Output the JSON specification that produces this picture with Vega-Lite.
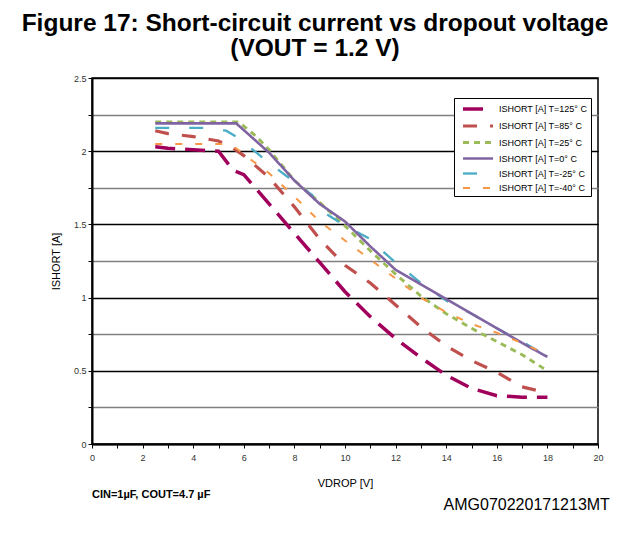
{
  "$schema": "https://vega.github.io/schema/vega-lite/v6.json",
  "width": 506,
  "height": 366,
  "autosize": "none",
  "padding": {"left": 92, "top": 78, "right": 31, "bottom": 94},
  "background": "white",
  "title": {
    "text": ["Figure 17: Short-circuit current vs dropout voltage", "(VOUT = 1.2 V)"],
    "anchor": "middle",
    "dx": -30,
    "offset": 13,
    "font": "Liberation Sans",
    "fontSize": 24.5,
    "fontWeight": "bold",
    "lineHeight": 24.5,
    "color": "black"
  },
  "datasets": {
    "curves": [
      {"v": 2.5, "i": 2.03, "s": "ISHORT [A] T=125° C"},
      {"v": 3, "i": 2.02, "s": "ISHORT [A] T=125° C"},
      {"v": 4, "i": 2.01, "s": "ISHORT [A] T=125° C"},
      {"v": 5, "i": 2.0, "s": "ISHORT [A] T=125° C"},
      {"v": 5.4, "i": 1.91, "s": "ISHORT [A] T=125° C"},
      {"v": 5.65, "i": 1.865, "s": "ISHORT [A] T=125° C"},
      {"v": 6, "i": 1.84, "s": "ISHORT [A] T=125° C"},
      {"v": 7, "i": 1.64, "s": "ISHORT [A] T=125° C"},
      {"v": 8, "i": 1.44, "s": "ISHORT [A] T=125° C"},
      {"v": 9, "i": 1.24, "s": "ISHORT [A] T=125° C"},
      {"v": 10, "i": 1.04, "s": "ISHORT [A] T=125° C"},
      {"v": 11, "i": 0.87, "s": "ISHORT [A] T=125° C"},
      {"v": 12, "i": 0.72, "s": "ISHORT [A] T=125° C"},
      {"v": 13, "i": 0.59, "s": "ISHORT [A] T=125° C"},
      {"v": 14, "i": 0.47, "s": "ISHORT [A] T=125° C"},
      {"v": 15, "i": 0.38, "s": "ISHORT [A] T=125° C"},
      {"v": 16, "i": 0.33, "s": "ISHORT [A] T=125° C"},
      {"v": 17, "i": 0.32, "s": "ISHORT [A] T=125° C"},
      {"v": 18, "i": 0.32, "s": "ISHORT [A] T=125° C"},

      {"v": 2.5, "i": 2.14, "s": "ISHORT [A] T=85° C"},
      {"v": 3, "i": 2.12, "s": "ISHORT [A] T=85° C"},
      {"v": 4, "i": 2.10, "s": "ISHORT [A] T=85° C"},
      {"v": 5, "i": 2.07, "s": "ISHORT [A] T=85° C"},
      {"v": 5.5, "i": 2.03, "s": "ISHORT [A] T=85° C"},
      {"v": 6, "i": 1.97, "s": "ISHORT [A] T=85° C"},
      {"v": 7, "i": 1.82, "s": "ISHORT [A] T=85° C"},
      {"v": 8, "i": 1.62, "s": "ISHORT [A] T=85° C"},
      {"v": 9, "i": 1.40, "s": "ISHORT [A] T=85° C"},
      {"v": 10, "i": 1.22, "s": "ISHORT [A] T=85° C"},
      {"v": 11, "i": 1.10, "s": "ISHORT [A] T=85° C"},
      {"v": 12, "i": 0.95, "s": "ISHORT [A] T=85° C"},
      {"v": 13, "i": 0.80, "s": "ISHORT [A] T=85° C"},
      {"v": 14, "i": 0.67, "s": "ISHORT [A] T=85° C"},
      {"v": 15, "i": 0.57, "s": "ISHORT [A] T=85° C"},
      {"v": 16, "i": 0.49, "s": "ISHORT [A] T=85° C"},
      {"v": 17, "i": 0.39, "s": "ISHORT [A] T=85° C"},
      {"v": 18, "i": 0.35, "s": "ISHORT [A] T=85° C"},

      {"v": 2.5, "i": 2.2, "s": "ISHORT [A] T=25° C"},
      {"v": 5.8, "i": 2.2, "s": "ISHORT [A] T=25° C"},
      {"v": 6.5, "i": 2.1, "s": "ISHORT [A] T=25° C"},
      {"v": 7, "i": 2.01, "s": "ISHORT [A] T=25° C"},
      {"v": 8, "i": 1.8, "s": "ISHORT [A] T=25° C"},
      {"v": 9, "i": 1.65, "s": "ISHORT [A] T=25° C"},
      {"v": 10, "i": 1.49, "s": "ISHORT [A] T=25° C"},
      {"v": 11, "i": 1.32, "s": "ISHORT [A] T=25° C"},
      {"v": 12, "i": 1.16, "s": "ISHORT [A] T=25° C"},
      {"v": 13, "i": 1.01, "s": "ISHORT [A] T=25° C"},
      {"v": 14, "i": 0.89, "s": "ISHORT [A] T=25° C"},
      {"v": 15, "i": 0.79, "s": "ISHORT [A] T=25° C"},
      {"v": 16, "i": 0.70, "s": "ISHORT [A] T=25° C"},
      {"v": 17, "i": 0.61, "s": "ISHORT [A] T=25° C"},
      {"v": 18, "i": 0.50, "s": "ISHORT [A] T=25° C"},

      {"v": 2.5, "i": 2.16, "s": "ISHORT [A] T=-25° C"},
      {"v": 4.5, "i": 2.16, "s": "ISHORT [A] T=-25° C"},
      {"v": 5.3, "i": 2.14, "s": "ISHORT [A] T=-25° C"},
      {"v": 5.7, "i": 2.10, "s": "ISHORT [A] T=-25° C"},
      {"v": 6.5, "i": 1.99, "s": "ISHORT [A] T=-25° C"},
      {"v": 7, "i": 1.92, "s": "ISHORT [A] T=-25° C"},
      {"v": 8, "i": 1.79, "s": "ISHORT [A] T=-25° C"},
      {"v": 8.7, "i": 1.70, "s": "ISHORT [A] T=-25° C"},
      {"v": 9, "i": 1.60, "s": "ISHORT [A] T=-25° C"},
      {"v": 10, "i": 1.49, "s": "ISHORT [A] T=-25° C"},
      {"v": 11, "i": 1.40, "s": "ISHORT [A] T=-25° C"},
      {"v": 11.4, "i": 1.33, "s": "ISHORT [A] T=-25° C"},
      {"v": 12, "i": 1.24, "s": "ISHORT [A] T=-25° C"},
      {"v": 13, "i": 1.10, "s": "ISHORT [A] T=-25° C"},
      {"v": 14, "i": 0.98, "s": "ISHORT [A] T=-25° C"},
      {"v": 15, "i": 0.89, "s": "ISHORT [A] T=-25° C"},
      {"v": 16, "i": 0.79, "s": "ISHORT [A] T=-25° C"},
      {"v": 17, "i": 0.70, "s": "ISHORT [A] T=-25° C"},
      {"v": 18, "i": 0.60, "s": "ISHORT [A] T=-25° C"},

      {"v": 2.5, "i": 2.19, "s": "ISHORT [A] T=0° C"},
      {"v": 5.7, "i": 2.19, "s": "ISHORT [A] T=0° C"},
      {"v": 7, "i": 1.99, "s": "ISHORT [A] T=0° C"},
      {"v": 8, "i": 1.80, "s": "ISHORT [A] T=0° C"},
      {"v": 9, "i": 1.64, "s": "ISHORT [A] T=0° C"},
      {"v": 10, "i": 1.52, "s": "ISHORT [A] T=0° C"},
      {"v": 11, "i": 1.35, "s": "ISHORT [A] T=0° C"},
      {"v": 12, "i": 1.19, "s": "ISHORT [A] T=0° C"},
      {"v": 13, "i": 1.09, "s": "ISHORT [A] T=0° C"},
      {"v": 14, "i": 0.99, "s": "ISHORT [A] T=0° C"},
      {"v": 15, "i": 0.89, "s": "ISHORT [A] T=0° C"},
      {"v": 16, "i": 0.79, "s": "ISHORT [A] T=0° C"},
      {"v": 17, "i": 0.69, "s": "ISHORT [A] T=0° C"},
      {"v": 18, "i": 0.595, "s": "ISHORT [A] T=0° C"},

      {"v": 2.5, "i": 2.05, "s": "ISHORT [A] T=-40° C"},
      {"v": 5.2, "i": 2.05, "s": "ISHORT [A] T=-40° C"},
      {"v": 5.7, "i": 2.02, "s": "ISHORT [A] T=-40° C"},
      {"v": 6.3, "i": 1.94, "s": "ISHORT [A] T=-40° C"},
      {"v": 7, "i": 1.85, "s": "ISHORT [A] T=-40° C"},
      {"v": 8, "i": 1.69, "s": "ISHORT [A] T=-40° C"},
      {"v": 9, "i": 1.52, "s": "ISHORT [A] T=-40° C"},
      {"v": 10, "i": 1.39, "s": "ISHORT [A] T=-40° C"},
      {"v": 11, "i": 1.26, "s": "ISHORT [A] T=-40° C"},
      {"v": 12, "i": 1.13, "s": "ISHORT [A] T=-40° C"},
      {"v": 13, "i": 1.00, "s": "ISHORT [A] T=-40° C"},
      {"v": 14, "i": 0.90, "s": "ISHORT [A] T=-40° C"},
      {"v": 15, "i": 0.82, "s": "ISHORT [A] T=-40° C"},
      {"v": 16, "i": 0.76, "s": "ISHORT [A] T=-40° C"},
      {"v": 17, "i": 0.69, "s": "ISHORT [A] T=-40° C"},
      {"v": 18, "i": 0.61, "s": "ISHORT [A] T=-40° C"}
    ]
  },
  "layer": [
    {
      "data": {"name": "curves"},
      "mark": {"type": "line", "strokeCap": "butt"},
      "encoding": {
        "x": {
          "field": "v", "type": "quantitative",
          "scale": {"domain": [0, 20], "nice": false, "zero": false},
          "axis": {
            "title": "VDROP [V]",
            "values": [0,1,2,3,4,5,6,7,8,9,10,11,12,13,14,15,16,17,18,19,20],
            "tickCount": 100,
            "labelExpr": "datum.value % 2 == 0 ? format(datum.value, '~g') : ''",
            "labelFlush": false,
            "grid": false,
            "labelPadding": 5,
            "titlePadding": 15
          }
        },
        "y": {
          "field": "i", "type": "quantitative",
          "scale": {"domain": [0, 2.5], "nice": false},
          "axis": {
            "title": "ISHORT [A]",
            "values": [0,0.25,0.5,0.75,1,1.25,1.5,1.75,2,2.25,2.5],
            "tickCount": 100,
            "labelExpr": "(datum.value * 4) % 2 == 0 ? format(datum.value, '~g') : ''",
            "labelFlush": false,
            "grid": true,
            "gridColor": {"condition": {"test": "(datum.value * 4) % 2 == 1", "value": "#808080"}, "value": "#000000"},
            "gridOpacity": 1,
            "gridWidth": 1.3,
            "titlePadding": 12
          }
        },
        "color": {
          "field": "s", "type": "nominal",
          "sort": ["ISHORT [A] T=125° C", "ISHORT [A] T=85° C", "ISHORT [A] T=25° C", "ISHORT [A] T=0° C", "ISHORT [A] T=-25° C", "ISHORT [A] T=-40° C"],
          "scale": {
            "domain": ["ISHORT [A] T=125° C", "ISHORT [A] T=85° C", "ISHORT [A] T=25° C", "ISHORT [A] T=0° C", "ISHORT [A] T=-25° C", "ISHORT [A] T=-40° C"],
            "range": ["#A0005C", "#C0504D", "#9BBB59", "#8064A2", "#4BACC6", "#F79646"]
          },
          "legend": {"title": null}
        },
        "strokeDash": {
          "field": "s", "type": "nominal",
          "scale": {
            "domain": ["ISHORT [A] T=125° C", "ISHORT [A] T=85° C", "ISHORT [A] T=25° C", "ISHORT [A] T=0° C", "ISHORT [A] T=-25° C", "ISHORT [A] T=-40° C"],
            "range": [[20, 10], [14, 13], [6, 5], [1, 0], [14, 20], [7, 13]]
          },
          "legend": {"title": null}
        },
        "strokeWidth": {
          "field": "s", "type": "nominal",
          "scale": {
            "domain": ["ISHORT [A] T=125° C", "ISHORT [A] T=85° C", "ISHORT [A] T=25° C", "ISHORT [A] T=0° C", "ISHORT [A] T=-25° C", "ISHORT [A] T=-40° C"],
            "range": [3.5, 2, 2.2, 1.8, 2, 2]
          },
          "legend": {"title": null}
        }
      }
    },
    {
      "data": {"values": [{"note": "CIN=1µF, COUT=4.7 µF"}]},
      "mark": {"type": "text", "align": "left", "baseline": "middle", "font": "Liberation Sans", "fontSize": 11, "fontWeight": "bold", "color": "black"},
      "encoding": {
        "x": {"datum": 0, "type": "quantitative"},
        "y": {"datum": -0.35, "type": "quantitative"},
        "text": {"field": "note"}
      }
    },
    {
      "data": {"values": [{"note": "AMG070220171213MT"}]},
      "mark": {"type": "text", "align": "right", "baseline": "middle", "font": "Liberation Sans", "fontSize": 16, "color": "black"},
      "encoding": {
        "x": {"datum": 20.47, "type": "quantitative"},
        "y": {"datum": -0.418, "type": "quantitative"},
        "text": {"field": "note"}
      }
    }
  ],
  "config": {
    "font": "Liberation Sans",
    "view": {"stroke": "#000000", "strokeWidth": 1.5},
    "axis": {
      "domainColor": "#000000",
      "domainWidth": 2,
      "tickColor": "#000000",
      "tickSize": 4,
      "labelFont": "Liberation Sans",
      "labelFontSize": 9,
      "labelColor": "#333333",
      "titleFont": "Liberation Sans",
      "titleFontSize": 11,
      "titleFontWeight": "normal",
      "titleColor": "#000000"
    },
    "legend": {
      "orient": "none",
      "legendX": 362,
      "legendY": 20,
      "strokeColor": "#000000",
      "fillColor": "#ffffff",
      "padding": 3,
      "symbolType": "M-0.33,0H4.67",
      "symbolSize": 144,
      "labelFont": "Liberation Sans",
      "labelFontSize": 9,
      "labelColor": "#000000",
      "labelOffset": 26,
      "rowPadding": 2
    }
  }
}
